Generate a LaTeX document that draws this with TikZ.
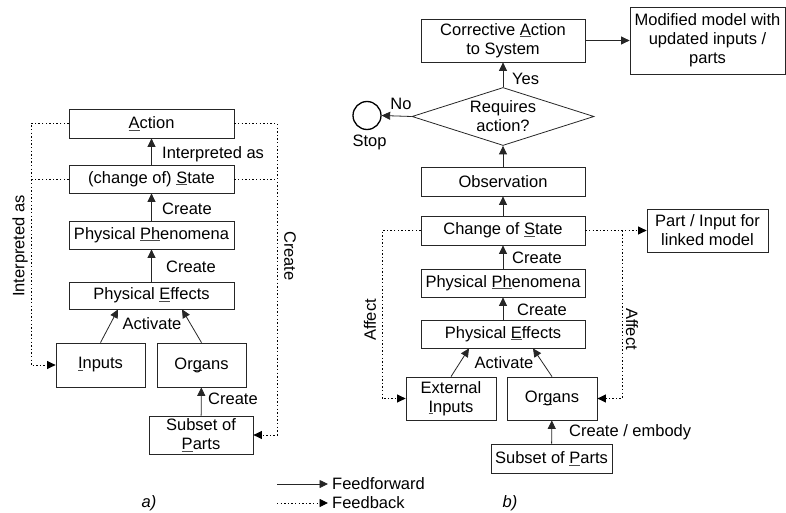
\documentclass[tikz,border=0pt]{standalone}
\usepackage{fontspec}
\setmainfont{Liberation Sans}
\usetikzlibrary{shapes.geometric,arrows.meta}
\newcommand\myul[1]{\setbox0\hbox{#1}\rlap{\color{black!70}\rule[-1.7pt]{\wd0}{0.5pt}}\box0}
\begin{document}
\begin{tikzpicture}[x=1pt,y=-1pt,
  every node/.style={font=\fontsize{16.5}{19}\selectfont},
  box/.style={draw=black!85,line width=0.8pt,align=center,inner sep=0pt},
  lbl/.style={inner sep=0pt},
  ff/.style={line width=0.8pt,draw=black!85,-{Triangle[length=8.5pt,width=8pt]}},
  fb/.style={line width=0.9pt,dash pattern=on 1.4pt off 2.2pt,-{Triangle[length=8.5pt,width=8pt]}},
  fbl/.style={line width=0.9pt,dash pattern=on 1.4pt off 2.2pt}]
\useasboundingbox (0,0) rectangle (786,513);
% ---------- left panel ----------
\node[box,minimum width=165pt,minimum height=29pt] (act) at (151.5,123.5) {\myul{A}ction};
\node[box,minimum width=165pt,minimum height=28pt] (state) at (151.5,179) {(change of) \myul{S}tate};
\node[box,minimum width=165pt,minimum height=28pt] (phen) at (151.5,235) {Physical \myul{Ph}enomena};
\node[box,minimum width=165pt,minimum height=27pt] (eff) at (151.5,295.5) {Physical \myul{E}ffects};
\node[box,minimum width=89pt,minimum height=44pt] (inp) at (100.5,365) {\myul{I}nputs};
\node[box,minimum width=89pt,minimum height=44pt] (org) at (201.5,365) {Or\myul{g}ans};
\node[box,minimum width=104pt,minimum height=38pt] (sub) at (201,435) {Subset of\\\myul{P}arts};
\draw[ff] (state) -- (act);
\draw[ff] (phen) -- (state);
\draw[ff] (eff) -- (phen);
\draw[ff] (inp.north) -- ([xshift=-33.5pt]eff.south);
\draw[ff] (org.north) -- ([xshift=30.5pt]eff.south);
\draw[ff] (sub) -- (org);
\node[lbl,anchor=west] (l1) at (162,154) {Interpreted as};
\node[lbl,anchor=west] (l2) at (162,209) {Create};
\node[lbl,anchor=west] (l3) at (166,267) {Create};
\node[lbl] (l4) at (152,324) {Activate};
\node[lbl,anchor=west] (l5) at (208,399) {Create};
\coordinate (la) at (31,0);
\coordinate (ra) at (277,0);
\draw[fb] (act.west) -- (act.west -| la) |- (inp.west);
\draw[fbl] (state.west) -- (state.west -| la);
\draw[fb] (act.east) -- (act.east -| ra) |- (sub.east);
\draw[fbl] (state.east) -- (state.east -| ra);
\node[lbl,rotate=90] (l6) at (20,246) {Interpreted as};
\node[lbl,rotate=-90] (l7) at (290,256) {Create};
% ---------- right panel ----------
\node[box,minimum width=164pt,minimum height=43pt] (corr) at (503,40.5) {Corrective \myul{A}ction\\to System};
\node[box,minimum width=155pt,minimum height=67pt] (mod) at (707.5,40.5) {Modified model with\\updated inputs /\\parts};
\node[draw=black!85,line width=0.8pt,diamond,aspect=3.14,minimum width=182pt,minimum height=58pt,inner sep=0pt,align=center] (dia) at (503,116.5) {Requires\\action?};
\node[draw=black,line width=1.3pt,circle,minimum size=28pt,inner sep=0pt] (stop) at (367,115.5) {};
\node[box,minimum width=164pt,minimum height=29pt] (obs) at (503,181.5) {Observation};
\node[box,minimum width=164pt,minimum height=29pt] (cos) at (503,230.5) {Change of \myul{S}tate};
\node[box,minimum width=121pt,minimum height=43pt] (pil) at (707.5,230.5) {Part / Input for\\linked model};
\node[box,minimum width=164pt,minimum height=28pt] (phen2) at (503,283) {Physical \myul{Ph}enomena};
\node[box,minimum width=164pt,minimum height=28pt] (eff2) at (503,334) {Physical \myul{E}ffects};
\node[box,minimum width=90pt,minimum height=43pt] (ext) at (451,398.5) {External\\\myul{I}nputs};
\node[box,minimum width=90pt,minimum height=43pt] (org2) at (552,398.5) {Or\myul{g}ans};
\node[box,minimum width=121pt,minimum height=29pt] (sub2) at (551.5,458.5) {Subset of \myul{P}arts};
\draw[ff] (corr) -- (mod);
\draw[ff] (dia.north) -- (corr.south);
\draw[ff] (dia.west) -- (stop.east);
\draw[ff] (obs) -- (dia.south);
\draw[ff] (cos) -- (obs);
\draw[ff] (phen2) -- (cos);
\draw[ff] (eff2) -- (phen2);
\draw[ff] (ext.north) -- ([xshift=-34pt]eff2.south);
\draw[ff] (org2.north) -- ([xshift=30pt]eff2.south);
\draw[ff] (sub2) -- (org2);
\node[lbl,anchor=west] (r1) at (512,79) {Yes};
\node[lbl] (r2) at (401,104) {No};
\node[lbl] (r3) at (369.5,142) {Stop};
\node[lbl,anchor=west] (r4) at (512,258) {Create};
\node[lbl,anchor=west] (r5) at (517,310) {Create};
\node[lbl] (r6) at (504,363) {Activate};
\node[lbl,anchor=west] (r7) at (569,432) {Create / embody};
\coordinate (rl) at (382,0);
\coordinate (rr) at (622,0);
\draw[fb] (cos.west) -- (cos.west -| rl) |- (ext.west);
\draw[fb] (cos.east) -- (pil.west);
\draw[fb] (cos.east -| rr) |- (org2.east);
\node[lbl,rotate=90] (r8) at (370,320) {Affect};
\node[lbl,rotate=-90] (r9) at (632,329) {Affect};
% ---------- legend ----------
\coordinate (g1a) at (277,484);
\coordinate (g1b) at (328,484);
\coordinate (g2a) at (277,503);
\coordinate (g2b) at (328,503);
\draw[ff] (g1a) -- (g1b);
\draw[fb] (g2a) -- (g2b);
\node[lbl,anchor=west] (t1) at (332,484) {Feedforward};
\node[lbl,anchor=west] (t2) at (332,503) {Feedback};
\node[lbl] (ta) at (149,503) {\itshape a)};
\node[lbl] (tb) at (510,503) {\itshape b)};
\end{tikzpicture}
\end{document}
